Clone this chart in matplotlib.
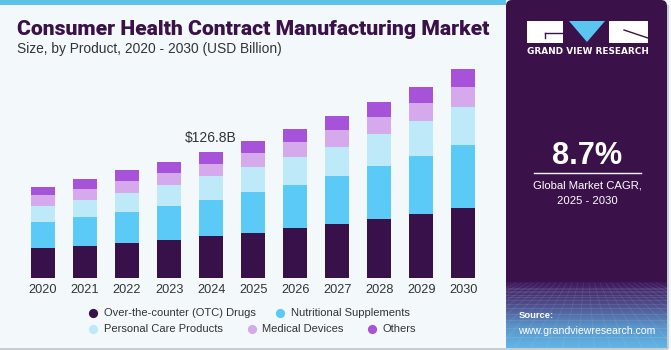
import numpy as np
import matplotlib
matplotlib.use("Agg")
import matplotlib.pyplot as plt
from matplotlib.patches import Rectangle, Polygon, FancyBboxPatch
from matplotlib.colors import LinearSegmentedColormap

# ---------------- data ----------------
years = ["2020", "2021", "2022", "2023", "2024", "2025", "2026", "2027", "2028", "2029", "2030"]
series_names = ["Over-the-counter (OTC) Drugs", "Nutritional Supplements",
                "Personal Care Products", "Medical Devices", "Others"]
otc = [29.8, 32.2, 35.5, 38.5, 41.8, 45.6, 49.9, 54.3, 59.7, 64.7, 70.7]
nutritional = [26.6, 28.8, 30.9, 33.5, 36.2, 40.5, 43.7, 48.6, 53.0, 57.6, 63.1]
personal_care = [16.4, 17.8, 19.4, 21.8, 24.5, 25.6, 28.2, 29.2, 32.2, 35.2, 38.2]
medical = [10.8, 11.1, 12.1, 12.1, 12.7, 13.7, 15.1, 16.8, 17.4, 19.1, 20.7]
others = [8.0, 9.8, 10.8, 11.1, 11.6, 12.8, 13.4, 13.7, 14.8, 15.8, 17.5]
annot_year = "2024"
annot_label = "$126.8B"
cagr_value = "8.7%"
cagr_text = ["Global Market CAGR,", "2025 - 2030"]

colors = ["#38104A", "#5BCAF6", "#BDE9F9", "#D5A9EC", "#A652D9"]

W, H = 671, 350
FONT = "Liberation Sans"
plt.rcParams["font.family"] = [FONT, "DejaVu Sans"]
NARROW = ["Liberation Sans Narrow", "Liberation Sans", "DejaVu Sans"]

fig = plt.figure(figsize=(W / 100, H / 100), dpi=100)
fig.patch.set_facecolor("#F3F8FB")
renderer = fig.canvas.get_renderer()


def fit(t, target_w):
    w = t.get_window_extent(renderer).width
    t.set_fontsize(t.get_fontsize() * target_w / w)
    return t.get_fontsize()


# ---------------- background decorations (pixel coords) ----------------
bg = fig.add_axes([0, 0, 1, 1], zorder=0)
bg.set_xlim(0, W)
bg.set_ylim(H, 0)
bg.axis("off")
bg.add_patch(Rectangle((0, 0), 506, 4.5, color="#5EC3EB", lw=0))
# right panel
px0, px1 = 506, 667
bg.add_patch(FancyBboxPatch((px0, 0), px1 - px0, H - 2, boxstyle="round,pad=0,rounding_size=6",
                            fc="#3A1249", ec="none"))
grad = np.linspace(0, 1, 100)[:, None]
cmap = LinearSegmentedColormap.from_list("g", ["#3E1A5C", "#4E4C8A", "#5A93C8", "#62B6E6"])
bg.imshow(grad, extent=(px0, px1, 348, 282), aspect="auto", cmap=cmap, zorder=1, origin="upper")
for yy in np.geomspace(6, 66, 14):
    bg.plot([px0, px1], [282 + yy, 282 + yy], color="white", alpha=0.10, lw=0.6, zorder=2)
for xx in np.linspace(px0 - 120, px1 + 120, 26):
    bg.plot([586 + (xx - 586) * 0.35, xx], [283, 348], color="white", alpha=0.09, lw=0.6, zorder=2)
bg.plot([px1 + 0.5, px1 + 0.5], [6, 348], color="#BFC6CC", lw=1.2, zorder=3)
bg.plot([0, px1], [348.5, 348.5], color="#BFC6CC", lw=1.2, zorder=3)

# logo
bg.add_patch(Rectangle((527, 21), 36, 22, color="white", lw=0, zorder=3))
bg.plot([545, 563], [32.5, 32.5], color="#3A1249", lw=1.0, zorder=4)
bg.plot([545, 545], [32.5, 38], color="#3A1249", lw=1.0, zorder=4)
bg.add_patch(Polygon([[569, 21], [605, 21], [587, 42]], closed=True, color="#5BC5F2", lw=0, zorder=3))
bg.add_patch(Rectangle((609, 21), 39, 22, color="white", lw=0, zorder=3))
bg.plot([624, 648], [30, 38], color="#3A1249", lw=1.0, zorder=4)
t = bg.text(587.5, 51.5, "GRAND VIEW RESEARCH", color="white", fontsize=6.3, fontweight="bold",
            ha="center", va="center", zorder=4, family=["DejaVu Sans"])
fit(t, 121)

t = bg.text(587, 156, cagr_value, color="white", fontsize=21, fontweight="bold",
            ha="center", va="center", zorder=4)
fit(t, 70)
bg.plot([534, 641], [173.3, 173.3], color="white", lw=1.0, zorder=4)
t1 = bg.text(587.5, 186, cagr_text[0], color="white", fontsize=9.6, ha="center", va="center", zorder=4)
fs = fit(t1, 109)
bg.text(587.5, 201.5, cagr_text[1], color="white", fontsize=fs, ha="center", va="center", zorder=4)
t = bg.text(518.5, 316, "Source:", color="white", fontsize=8.8, fontweight="bold",
            ha="left", va="center", zorder=4, family=NARROW)
fit(t, 35)
t = bg.text(518, 330.5, "www.grandviewresearch.com", color="white", fontsize=8.8,
            ha="left", va="center", zorder=4, family=NARROW)
fit(t, 138)

# title
t = bg.text(17, 35, "Consumer Health Contract Manufacturing Market", color="#3A1249",
            fontsize=14.2, fontweight="heavy", ha="left", va="baseline", zorder=4,
            family=["Roboto", "Liberation Sans"])
fit(t, 473)
t = bg.text(17, 52.5, "Size, by Product, 2020 - 2030 (USD Billion)", color="#333333",
            fontsize=9.8, ha="left", va="baseline", zorder=4)
fit(t, 263)

# legend (manual)
legend_items = [
    (0, 93, 312.5), (1, 280, 312.5),
    (2, 93, 329), (3, 251.5, 329), (4, 371.5, 329),
]
lfs = None
for idx, lx, ly in legend_items:
    bg.scatter([lx], [ly], s=44, color=colors[idx], zorder=4, linewidths=0)
    t = bg.text(lx + 11, ly, series_names[idx], fontsize=9 if lfs is None else lfs, color="#333333",
                ha="left", va="center", zorder=4)
    if lfs is None:
        lfs = fit(t, 151)

# ---------------- chart ----------------
left_px, right_px, base_px, top_px = 20, 486, 278, 68
ax = fig.add_axes([left_px / W, (H - base_px) / H, (right_px - left_px) / W, (base_px - top_px) / H],
                  zorder=2)
ax.patch.set_alpha(0)
x = np.arange(len(years))
spacing = 42.03
ax.set_xlim((left_px - 43) / spacing, (right_px - 43) / spacing)
ax.set_ylim(0, (base_px - top_px) * 126.8 / 126.0)

bottom = np.zeros(len(years))
for vals, c in zip([otc, nutritional, personal_care, medical, others], colors):
    ax.bar(x, vals, bottom=bottom, width=0.57, color=c, edgecolor=c, linewidth=0)
    bottom = bottom + np.array(vals)

i = years.index(annot_year)
ax.annotate(annot_label, xy=(x[i], bottom[i]), xytext=(-0.5, 7.5), textcoords="offset points",
            ha="center", va="baseline", fontsize=10, color="#333333")

ax.set_xticks(x)
ax.set_xticklabels(years, fontsize=9.2, color="#333333")
ax.tick_params(axis="x", length=0, pad=4)
ax.set_yticks([])
for s in ax.spines.values():
    s.set_visible(False)

fig.savefig("out.png", dpi=100, facecolor=fig.get_facecolor())
